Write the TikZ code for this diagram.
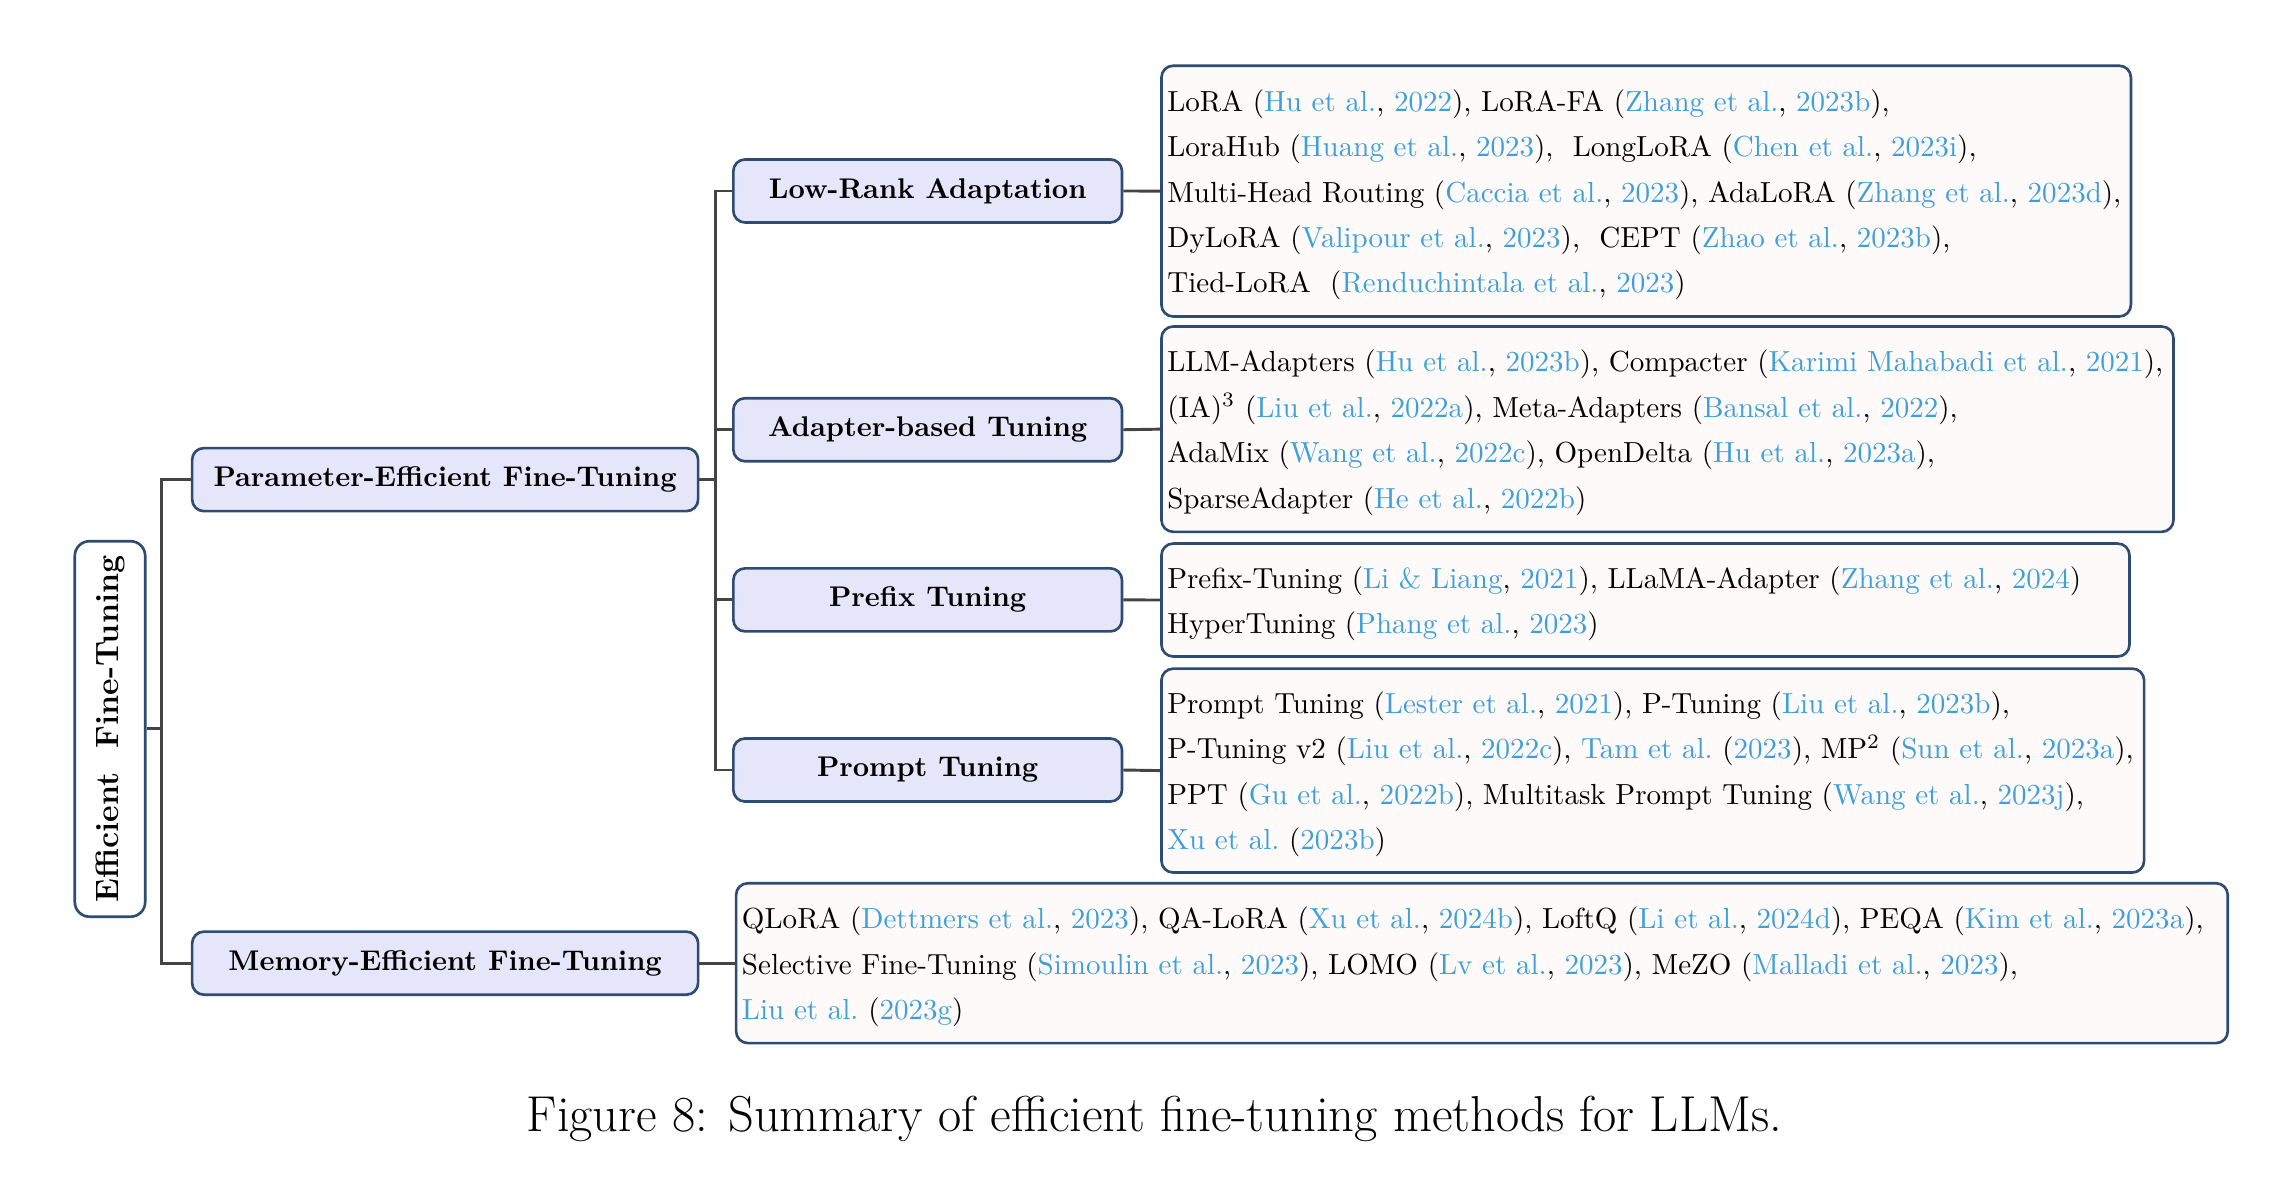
\documentclass[tikz,border=0pt]{standalone}
\usepackage{fontspec}
\definecolor{bordercol}{RGB}{46,75,115}
\definecolor{lvlfill}{RGB}{230,230,250}
\definecolor{leaffill}{RGB}{254,250,249}
\definecolor{citeblue}{RGB}{62,160,218}
\definecolor{conncol}{RGB}{68,68,68}
\newcommand\ct[1]{\textcolor{citeblue}{#1}}
\newcommand\firstln{\rule{0pt}{9.9pt}}
\tikzset{
  rootbox/.style={draw=bordercol, fill=white, line width=0.9pt, rounded corners=5pt,
    rotate=90, minimum width=128pt, minimum height=24pt, inner sep=0pt,
    font=\bfseries\fontsize{11}{13}\selectfont},
  lvlone/.style={draw=bordercol, fill=lvlfill, line width=0.9pt, rounded corners=4pt,
    minimum width=172.5pt, minimum height=21.5pt, inner sep=0pt,
    font=\bfseries\fontsize{9.7}{12}\selectfont},
  lvltwo/.style={lvlone, minimum width=132.5pt},
  leafbox/.style={draw=bordercol, fill=leaffill, line width=0.9pt, rounded corners=4pt,
    anchor=west, align=left, inner xsep=2pt, inner ysep=0pt,
    font=\fontsize{9.9}{15.5}\selectfont},
  conn/.style={draw=conncol, line width=1pt},
}
\begin{document}
\begin{tikzpicture}[x=0.5pt,y=-0.5pt]
\useasboundingbox (0,0) rectangle (1560,815.5);

\node[rootbox] (root) at (75,497) {Efficient~ Fine-Tuning};

\node[lvlone] (peft) at (303.5,327) {Parameter-Efficient Fine-Tuning};
\node[lvlone] (meft) at (303.5,656.7) {Memory-Efficient Fine-Tuning};

\node[lvltwo] (lra) at (632.5,130.2) {Low-Rank Adaptation};
\node[lvltwo] (abt) at (632.5,293) {Adapter-based Tuning};
\node[lvltwo] (pft) at (632.5,409) {Prefix Tuning};
\node[lvltwo] (prt) at (632.5,525) {Prompt Tuning};

\node[leafbox, text width=326.5pt, minimum height=85.5pt] (lraleaf) at (791,130.3) {%
\mbox{\firstln LoRA (\ct{Hu et al.}, \ct{2022}), LoRA-FA (\ct{Zhang et al.}, \ct{2023b}),}\\
\mbox{LoraHub (\ct{Huang et al.}, \ct{2023}),~ LongLoRA (\ct{Chen et al.}, \ct{2023i}),}\\
\mbox{Multi-Head Routing (\ct{Caccia et al.}, \ct{2023}), AdaLoRA (\ct{Zhang et al.}, \ct{2023d}),}\\
\mbox{DyLoRA (\ct{Valipour et al.}, \ct{2023}),~ CEPT (\ct{Zhao et al.}, \ct{2023b}),}\\
\mbox{Tied-LoRA~ (\ct{Renduchintala et al.}, \ct{2023})}};

\node[leafbox, text width=341pt, minimum height=70pt] (abtleaf) at (791,292.6) {%
\mbox{\firstln LLM-Adapters (\ct{Hu et al.}, \ct{2023b}), Compacter (\ct{Karimi Mahabadi et al.}, \ct{2021}),}\\
\mbox{(IA)$^3$ (\ct{Liu et al.}, \ct{2022a}), Meta-Adapters (\ct{Bansal et al.}, \ct{2022}),}\\
\mbox{AdaMix (\ct{Wang et al.}, \ct{2022c}), OpenDelta (\ct{Hu et al.}, \ct{2023a}),}\\
\mbox{SparseAdapter (\ct{He et al.}, \ct{2022b})}};

\node[leafbox, text width=326pt, minimum height=38.5pt] (pftleaf) at (791,409.1) {%
\mbox{\firstln Prefix-Tuning (\ct{Li \& Liang}, \ct{2021}), LLaMA-Adapter (\ct{Zhang et al.}, \ct{2024})}\\
\mbox{HyperTuning (\ct{Phang et al.}, \ct{2023})}};

\node[leafbox, text width=331pt, minimum height=69.5pt] (prtleaf) at (791,525.4) {%
\mbox{\firstln Prompt Tuning (\ct{Lester et al.}, \ct{2021}), P-Tuning (\ct{Liu et al.}, \ct{2023b}),}\\
\mbox{P-Tuning v2 (\ct{Liu et al.}, \ct{2022c}), \ct{Tam et al.}\ (\ct{2023}), MP$^2$ (\ct{Sun et al.}, \ct{2023a}),}\\
\mbox{PPT (\ct{Gu et al.}, \ct{2022b}), Multitask Prompt Tuning (\ct{Wang et al.}, \ct{2023j}),}\\
\mbox{\ct{Xu et al.}\ (\ct{2023b})}};

\node[leafbox, text width=504.5pt, minimum height=54.5pt] (meftleaf) at (501,656.7) {%
\mbox{\firstln QLoRA (\ct{Dettmers et al.}, \ct{2023}), QA-LoRA (\ct{Xu et al.}, \ct{2024b}), LoftQ (\ct{Li et al.}, \ct{2024d}), PEQA (\ct{Kim et al.}, \ct{2023a}),}\\
\mbox{Selective Fine-Tuning (\ct{Simoulin et al.}, \ct{2023}), LOMO (\ct{Lv et al.}, \ct{2023}), MeZO (\ct{Malladi et al.}, \ct{2023}),}\\
\mbox{\ct{Liu et al.}\ (\ct{2023g})}};

% connectors
\draw[conn] (root.south) -- ++(10,0) |- (peft.west);
\draw[conn] (root.south) ++(10,0) |- (meft.west);
\draw[conn] (peft.east) -- ++(11,0) |- (lra.west);
\draw[conn] (peft.east) ++(11,0) |- (abt.west);
\draw[conn] (peft.east) ++(11,0) |- (pft.west);
\draw[conn] (peft.east) ++(11,0) |- (prt.west);
\draw[conn] (lra.east) -- (lraleaf.west);
\draw[conn] (abt.east) -- (abtleaf.west);
\draw[conn] (pft.east) -- (pftleaf.west);
\draw[conn] (prt.east) -- (prtleaf.west);
\draw[conn] (meft.east) -- (meftleaf.west);

\node[font=\fontsize{17.2}{20}\selectfont] (caption) at (787,763) {Figure 8: Summary of efficient fine-tuning methods for LLMs.};
\end{tikzpicture}
\end{document}
